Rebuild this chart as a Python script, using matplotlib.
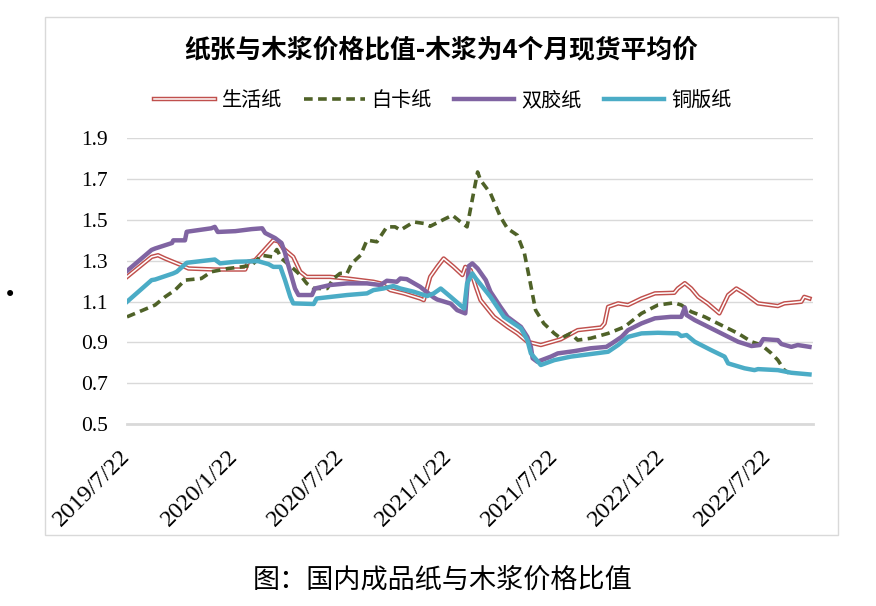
import matplotlib
matplotlib.use("Agg")
import matplotlib.pyplot as plt
import matplotlib.patheffects as pe
from matplotlib.patches import Rectangle
from matplotlib.transforms import ScaledTranslation
import pandas as pd

plt.rcParams["font.family"] = ["Noto Sans CJK SC", "DejaVu Sans"]

# 生活纸
shenghuo_dates = ["2019-07-22", "2019-09-02", "2019-09-13", "2019-09-25", "2019-10-23", "2019-11-04",
                  "2019-12-19", "2020-02-09", "2020-02-14", "2020-02-26", "2020-03-02", "2020-03-20",
                  "2020-03-28", "2020-04-06", "2020-04-14", "2020-05-01", "2020-05-13", "2020-05-24",
                  "2020-07-03", "2020-08-01", "2020-09-15", "2020-09-27", "2020-10-14", "2020-11-06",
                  "2020-12-04", "2020-12-10", "2020-12-21", "2021-01-02", "2021-01-13", "2021-01-30",
                  "2021-02-14", "2021-02-19", "2021-02-28", "2021-03-09", "2021-03-17", "2021-04-09",
                  "2021-05-02", "2021-05-19", "2021-06-05", "2021-06-28", "2021-08-01", "2021-08-30",
                  "2021-10-09", "2021-10-15", "2021-10-21", "2021-11-07", "2021-11-24", "2021-12-17",
                  "2022-01-09", "2022-02-11", "2022-02-17", "2022-03-01", "2022-03-12", "2022-03-24",
                  "2022-04-09", "2022-04-29", "2022-05-14", "2022-05-28", "2022-06-11", "2022-07-04",
                  "2022-08-07", "2022-08-18", "2022-09-16", "2022-09-21", "2022-09-30"]
shenghuo_vals = [1.221, 1.319, 1.327, 1.311, 1.278, 1.262,
                 1.257, 1.257, 1.295, 1.303, 1.319, 1.376,
                 1.401, 1.395, 1.360, 1.319, 1.246, 1.221,
                 1.221, 1.213, 1.197, 1.189, 1.156, 1.140,
                 1.115, 1.107, 1.221, 1.270, 1.311, 1.270,
                 1.230, 1.270, 1.254, 1.172, 1.107, 1.025,
                 0.976, 0.944, 0.903, 0.887, 0.915, 0.960,
                 0.973, 0.993, 1.074, 1.091, 1.083, 1.115,
                 1.140, 1.143, 1.164, 1.190, 1.164, 1.123,
                 1.091, 1.042, 1.132, 1.164, 1.140, 1.091,
                 1.078, 1.091, 1.099, 1.123, 1.115]

# 白卡纸
baika_dates = ["2019-07-22", "2019-09-08", "2019-09-25", "2019-10-12", "2019-10-29", "2019-11-26",
               "2019-12-13", "2020-01-11", "2020-02-03", "2020-02-20", "2020-03-08", "2020-03-26",
               "2020-04-03", "2020-04-11", "2020-05-01", "2020-05-13", "2020-05-24", "2020-06-05",
               "2020-06-28", "2020-07-09", "2020-07-20", "2020-08-01", "2020-08-09", "2020-08-24",
               "2020-09-04", "2020-09-21", "2020-10-08", "2020-10-22", "2020-10-31", "2020-11-23",
               "2020-12-10", "2020-12-21", "2021-01-13", "2021-01-28", "2021-02-11", "2021-02-22",
               "2021-03-06", "2021-03-12", "2021-03-17", "2021-04-03", "2021-04-20", "2021-05-02",
               "2021-05-19", "2021-05-31", "2021-06-08", "2021-06-19", "2021-07-03", "2021-07-21",
               "2021-08-01", "2021-08-18", "2021-08-30", "2021-09-21", "2021-10-21", "2021-11-18",
               "2021-12-17", "2022-01-14", "2022-02-11", "2022-02-23", "2022-03-12", "2022-04-04",
               "2022-05-02", "2022-05-31", "2022-06-23", "2022-07-10", "2022-07-27", "2022-08-07",
               "2022-08-18", "2022-08-26"]
baika_vals = [1.025, 1.083, 1.123, 1.156, 1.205, 1.213,
              1.246, 1.262, 1.270, 1.278, 1.327, 1.319,
              1.355, 1.311, 1.262, 1.230, 1.189, 1.164,
              1.164, 1.213, 1.238, 1.238, 1.287, 1.327,
              1.401, 1.393, 1.466, 1.466, 1.450, 1.490,
              1.483, 1.469, 1.502, 1.523, 1.490, 1.466,
              1.646, 1.735, 1.695, 1.630, 1.515, 1.458,
              1.425, 1.336, 1.221, 1.058, 0.993, 0.944,
              0.920, 0.944, 0.911, 0.920, 0.944, 0.976,
              1.042, 1.083, 1.094, 1.083, 1.050, 1.025,
              0.985, 0.944, 0.903, 0.887, 0.846, 0.813,
              0.764, 0.750]

# 双胶纸
shuangjiao_dates = ["2019-07-22", "2019-09-02", "2019-09-08", "2019-10-07", "2019-10-09", "2019-10-29",
                    "2019-11-01", "2019-12-13", "2019-12-19", "2019-12-24", "2020-01-23", "2020-02-20",
                    "2020-03-09", "2020-03-14", "2020-03-31", "2020-04-11", "2020-04-17", "2020-04-20",
                    "2020-05-04", "2020-05-10", "2020-06-02", "2020-06-07", "2020-07-03", "2020-08-01",
                    "2020-09-04", "2020-09-27", "2020-10-08", "2020-10-25", "2020-10-31", "2020-11-11",
                    "2020-12-04", "2020-12-27", "2021-01-02", "2021-01-25", "2021-02-05", "2021-02-19",
                    "2021-02-25", "2021-03-03", "2021-03-12", "2021-03-26", "2021-04-03", "2021-04-20",
                    "2021-05-02", "2021-05-25", "2021-06-05", "2021-06-11", "2021-06-14", "2021-06-22",
                    "2021-07-15", "2021-07-27", "2021-08-24", "2021-09-21", "2021-10-18", "2021-10-29",
                    "2021-11-13", "2021-11-24", "2021-12-17", "2022-01-09", "2022-02-05", "2022-02-23",
                    "2022-03-01", "2022-03-04", "2022-03-18", "2022-04-15", "2022-05-08", "2022-05-31",
                    "2022-06-23", "2022-07-07", "2022-07-13", "2022-08-07", "2022-08-13", "2022-08-30",
                    "2022-09-10", "2022-09-30"]
shuangjiao_vals = [1.250, 1.353, 1.360, 1.387, 1.400, 1.400,
                   1.442, 1.459, 1.466, 1.441, 1.445, 1.455,
                   1.459, 1.436, 1.411, 1.387, 1.338, 1.303,
                   1.164, 1.132, 1.132, 1.164, 1.181, 1.189,
                   1.189, 1.181, 1.202, 1.197, 1.213, 1.210,
                   1.172, 1.120, 1.110, 1.090, 1.058, 1.042,
                   1.274, 1.287, 1.262, 1.205, 1.148, 1.074,
                   1.025, 0.976, 0.927, 0.878, 0.822, 0.805,
                   0.830, 0.846, 0.857, 0.871, 0.878, 0.898,
                   0.927, 0.960, 0.993, 1.018, 1.025, 1.025,
                   1.071, 1.034, 1.009, 0.969, 0.936, 0.903,
                   0.882, 0.887, 0.916, 0.911, 0.892, 0.878,
                   0.887, 0.878]

# 铜版纸
tongban_dates = ["2019-07-22", "2019-09-02", "2019-09-08", "2019-10-09", "2019-10-15", "2019-11-01",
                 "2019-12-19", "2019-12-28", "2020-01-23", "2020-03-02", "2020-03-20", "2020-03-28",
                 "2020-04-09", "2020-04-17", "2020-04-26", "2020-05-01", "2020-06-05", "2020-06-10",
                 "2020-08-01", "2020-09-04", "2020-09-15", "2020-10-02", "2020-10-19", "2020-10-31",
                 "2020-11-23", "2020-12-16", "2020-12-27", "2021-01-08", "2021-01-25", "2021-02-17",
                 "2021-02-22", "2021-03-03", "2021-03-09", "2021-04-03", "2021-04-26", "2021-05-25",
                 "2021-06-05", "2021-06-11", "2021-06-28", "2021-07-21", "2021-08-18", "2021-10-21",
                 "2021-11-07", "2021-11-24", "2021-12-17", "2022-01-14", "2022-02-17", "2022-02-23",
                 "2022-03-04", "2022-03-18", "2022-04-15", "2022-05-08", "2022-05-14", "2022-06-11",
                 "2022-06-28", "2022-07-04", "2022-08-07", "2022-08-30", "2022-09-30"]
tongban_vals = [1.099, 1.205, 1.208, 1.238, 1.246, 1.290,
                1.306, 1.287, 1.295, 1.298, 1.283, 1.270,
                1.270, 1.205, 1.123, 1.091, 1.088, 1.115,
                1.132, 1.140, 1.156, 1.164, 1.176, 1.164,
                1.148, 1.127, 1.140, 1.164, 1.123, 1.066,
                1.189, 1.238, 1.213, 1.123, 1.025, 0.969,
                0.911, 0.846, 0.789, 0.813, 0.830, 0.854,
                0.887, 0.927, 0.944, 0.947, 0.944, 0.931,
                0.936, 0.903, 0.862, 0.830, 0.797, 0.773,
                0.764, 0.769, 0.764, 0.751, 0.743]

tick_dates = ["2019-07-22", "2020-01-22", "2020-07-22", "2021-01-22",
              "2021-07-22", "2022-01-22", "2022-07-22"]
tick_labels = ["2019/7/22", "2020/1/22", "2020/7/22", "2021/1/22",
               "2021/7/22", "2022/1/22", "2022/7/22"]

W, H = 876, 606
fig = plt.figure(figsize=(W / 100, H / 100), dpi=100)

# outer frame of the chart area
fig.patches.append(Rectangle((45 / W, 1 - 535 / H), 793 / W, 518 / H,
                             transform=fig.transFigure, fill=False,
                             edgecolor="#D9D9D9", linewidth=1))

ax = fig.add_axes([127 / W, 1 - 424 / H, (813 - 127) / W, (424 - 138.3) / H])

ax.plot(pd.to_datetime(shenghuo_dates), shenghuo_vals, color="white", linewidth=1.1,
        label="生活纸",
        path_effects=[pe.Stroke(linewidth=3.2, foreground="#C0504D"), pe.Normal()])
ax.plot(pd.to_datetime(baika_dates), baika_vals, color="#4F6228", linewidth=2.6,
        linestyle=(0, (2.4, 1.5)), label="白卡纸")
ax.plot(pd.to_datetime(shuangjiao_dates), shuangjiao_vals, color="#8064A2",
        linewidth=3.2, label="双胶纸", solid_joinstyle="round")
ax.plot(pd.to_datetime(tongban_dates), tongban_vals, color="#4BACC6",
        linewidth=3.2, label="铜版纸", solid_joinstyle="round")

ax.set_ylim(0.5, 1.9)
ax.set_yticks([0.5, 0.7, 0.9, 1.1, 1.3, 1.5, 1.7, 1.9])
ax.set_yticklabels([f"{v:.1f}" for v in [0.5, 0.7, 0.9, 1.1, 1.3, 1.5, 1.7, 1.9]],
                   family="Liberation Serif", fontsize=15.5)
ax.set_xlim(pd.Timestamp("2019-07-22"), pd.Timestamp("2022-10-06"))
ax.set_xticks(pd.to_datetime(tick_dates))
ax.set_xticklabels([])

# rotated date labels, nudged right of the tick like Excel does
lbl_trans = ax.get_xaxis_transform() + ScaledTranslation(7 / 100, -22 / 100, fig.dpi_scale_trans)
for d, t in zip(pd.to_datetime(tick_dates), tick_labels):
    ax.text(d, 0, t, transform=lbl_trans, rotation=45, ha="right", va="top",
            family="Liberation Serif", fontsize=17.5, clip_on=False)

ax.tick_params(axis="both", length=0)
ax.tick_params(axis="y", pad=14)
ax.grid(axis="y", color="#D9D9D9", linewidth=1)
ax.set_axisbelow(True)
for side in ["top", "right", "left"]:
    ax.spines[side].set_visible(False)
ax.spines["bottom"].set_color("#D9D9D9")
ax.spines["bottom"].set_linewidth(2)

fig.text(441 / W, 1 - 50 / H, "纸张与木浆价格比值-木浆为4个月现货平均价",
         ha="center", va="center", fontsize=18.5, fontweight="bold")

fig.legend(loc="center", bbox_to_anchor=(443 / W, 1 - 101 / H), ncol=4,
           frameon=False, fontsize=14.5, handlelength=3.0, handletextpad=0.35,
           columnspacing=1.1)

fig.text(4 / W, 1 - 295 / H, "•", ha="left", va="center", fontsize=15,
         family="DejaVu Sans")
fig.text(443 / W, 1 - 580 / H, "图：国内成品纸与木浆价格比值",
         ha="center", va="center", fontsize=19.5)

fig.savefig("out.png", dpi=100)
